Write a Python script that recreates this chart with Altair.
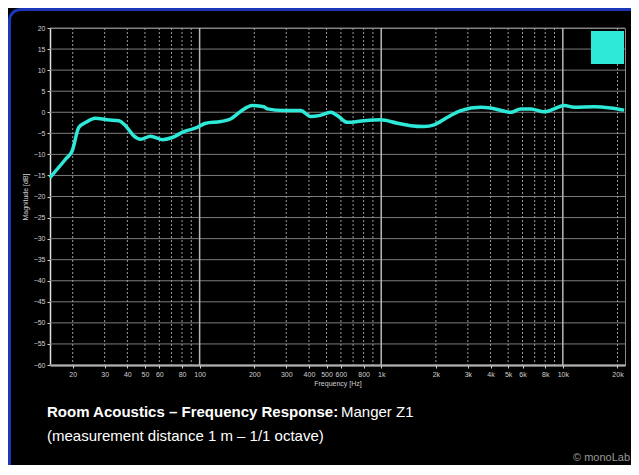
import altair as alt
import pandas as pd

# ---- data ----
freq_hz = [15, 18.3, 19.9, 21.6, 23.6, 26.7, 31.0, 35.9, 39.1, 43.4, 47.3, 53.7, 62.3, 70.7,
           81.9, 97.1, 108, 131, 148, 168, 195, 226, 236, 291, 360, 409, 454, 527, 574, 651,
           804, 993, 1227, 1454, 1722, 1955, 2317, 2742, 3534, 4011, 5167, 5869, 6666, 7889,
           8960, 10170, 11550, 14870, 18360, 21760]
level_db = [-15.5, -11.1, -9.1, -3.6, -2.4, -1.4, -1.8, -2.0, -3.2, -5.6, -6.4, -5.7, -6.5, -6.0,
            -4.6, -3.6, -2.6, -2.2, -1.6, 0.2, 1.6, 1.3, 0.8, 0.4, 0.4, -1.0, -0.8, 0.0, -0.8, -2.4,
            -2.0, -1.8, -2.6, -3.2, -3.4, -3.0, -1.2, 0.4, 1.2, 1.0, 0.0, 0.8, 0.8, 0.1,
            0.8, 1.6, 1.2, 1.3, 1.0, 0.5]
series_name = ["Manger Z1"]

x_label_ticks = [20, 30, 40, 50, 60, 80, 100, 200, 300, 400, 500, 600, 800,
                 1000, 2000, 3000, 4000, 5000, 6000, 8000, 10000, 20000]
x_minor_grid = [20, 30, 40, 50, 60, 70, 80, 90, 200, 300, 400, 500, 600, 700, 800, 900,
                2000, 3000, 4000, 5000, 6000, 7000, 8000, 9000, 20000]
x_major_grid = [100, 1000, 10000]
y_ticks = list(range(-60, 21, 5))

title_bold = "Room Acoustics – Frequency Response:"
title_regular = "Manger Z1"
subtitle = "(measurement distance 1 m – 1/1 octave)"
credit = "© monoLab"

CYAN = "#2EE8D8"
LABEL = "#cfcfcf"
FONT = "Liberation Sans"
W, H = 575, 337

x_scale = alt.Scale(type="log", domain=[15, 22000], nice=False)
y_scale = alt.Scale(domain=[-60, 20], nice=False, zero=False)

x_axis = alt.Axis(
    values=x_label_ticks,
    labelExpr="datum.value >= 1000 ? (datum.value / 1000) + 'k' : datum.value + ''",
    title="Frequency [Hz]", titleFontSize=7, titleFontWeight="normal", titleColor=LABEL,
    titlePadding=2, titleFont=FONT,
    labelFontSize=7, labelColor=LABEL, labelPadding=2, labelFont=FONT,
    labelOverlap=False, labelFlush=False,
    ticks=True, tickSize=3, tickColor=LABEL,
    domainColor="#e0e0e0", domainWidth=2, grid=False)
y_axis = alt.Axis(
    values=y_ticks,
    title="Magnitude [dB]", titleFontSize=7, titleFontWeight="normal", titleColor=LABEL,
    titlePadding=5, titleFont=FONT,
    labelFontSize=7, labelColor=LABEL, labelPadding=2, labelFont=FONT,
    labelOverlap=False, labelFlush=False,
    ticks=True, tickSize=3, tickColor=LABEL,
    domainColor="#e0e0e0", domainWidth=1.5, grid=False)

df = pd.DataFrame({"freq": freq_hz, "db": level_db, "series": series_name[0]})

frame = alt.Chart(pd.DataFrame({"k": [0]})).mark_rect(
    fillOpacity=0, stroke="#1b37b8", strokeWidth=3, cornerRadius=11
).encode(x=alt.value(-40.5), x2=alt.value(W + 60), y=alt.value(-18.5), y2=alt.value(H + 160))

y_grid = alt.Chart(pd.DataFrame({"db": y_ticks})).mark_rule(
    color="#7c7c7c", strokeWidth=1
).encode(y=alt.Y("db:Q", scale=y_scale, axis=y_axis, title="Magnitude [dB]"))

minor_grid = alt.Chart(pd.DataFrame({"freq": x_minor_grid})).mark_rule(
    color="#9c9c9c", strokeWidth=1, strokeDash=[2, 2]
).encode(x=alt.X("freq:Q", scale=x_scale, axis=x_axis, title="Frequency [Hz]"))

major_grid = alt.Chart(pd.DataFrame({"freq": x_major_grid})).mark_rule(
    color="#b8b8b8", strokeWidth=1.5
).encode(x=alt.X("freq:Q", scale=x_scale, axis=x_axis, title="Frequency [Hz]"))

line = alt.Chart(df).mark_line(strokeWidth=3.5, interpolate="monotone").encode(
    x=alt.X("freq:Q", scale=x_scale, axis=x_axis, title="Frequency [Hz]"),
    y=alt.Y("db:Q", scale=y_scale, axis=y_axis, title="Magnitude [dB]"),
    color=alt.Color("series:N", scale=alt.Scale(range=[CYAN]), legend=alt.Legend(
        title=None, orient="none", legendX=541, legendY=3, padding=0,
        symbolType="square", symbolSize=1089, symbolFillColor=CYAN,
        symbolStrokeColor=CYAN, symbolStrokeWidth=0, symbolOpacity=1,
        labelExpr="''", labelFontSize=1)),
)

def text_layer(txt, x, y, **kw):
    return alt.Chart(pd.DataFrame({"t": [txt]})).mark_text(
        baseline="alphabetic", font=FONT, **kw
    ).encode(text="t:N", x=alt.value(x), y=alt.value(y))

t1 = text_layer(title_bold, -3, 389, align="left", fontSize=15, fontWeight="bold", color="white")
t2 = text_layer(title_regular, 291, 389, align="left", fontSize=15, color="white")
t3 = text_layer(subtitle, -3, 413, align="left", fontSize=15, color="white")
t4 = text_layer(credit, 580, 433, align="right", fontSize=11, color="#9a9a9a")

chart = alt.layer(frame, y_grid, minor_grid, major_grid, line, t1, t2, t3, t4).properties(
    width=W, height=H,
    padding={"left": 42, "top": 20, "right": 6, "bottom": 100},
    autosize=alt.AutoSizeParams(type="none"),
    background="black",
).configure_view(stroke="#8a8a8a", strokeWidth=1)

chart.save("out.html", embed_options={"renderer": "svg", "actions": False})
